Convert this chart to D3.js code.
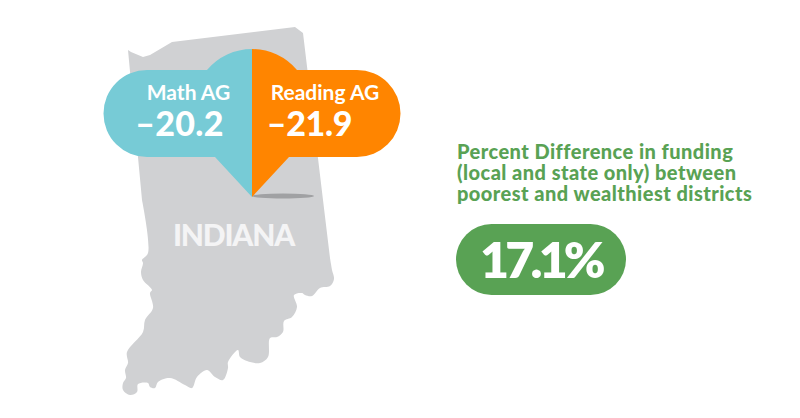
<!DOCTYPE html>
<html>
<head>
<meta charset="utf-8">
<script src="https://cdn.jsdelivr.net/npm/d3@7"></script>
<style>
  html, body { margin: 0; background: #fff; }
  svg { display: block; }
  text { font-family: Lato, "Open Sans", sans-serif; }
</style>
</head>
<body>
<svg id="chart" width="800" height="418"></svg>
<script>
const stateName = 'INDIANA';
const subjects = ['Math AG', 'Reading AG'];
const gaps = [-20.2, -21.9];
const fundingLines = [
  'Percent Difference in funding',
  '(local and state only) between',
  'poorest and wealthiest districts'
];
const fundingDiff = 17.1;

// traced state border: straight north edge, then the wiggly river edge
const northEdge = [[142, 200], [128, 50], [131, 52], [143, 57], [150, 55], [172, 42], [295, 27], [303, 33], [323, 200], [330, 258]];
const riverEdge = [
  [330, 258], [331, 264], [332, 270], [334, 279], [330, 286], [320, 288], [312, 296], [305, 295], [302, 293], [294, 295],
  [297, 307], [292, 317], [284, 321], [283, 332], [277, 337], [270, 338], [268, 357], [260, 363], [247, 361], [240, 357],
  [238, 350], [228, 362], [228, 368], [223, 380], [215, 377], [207, 370], [197, 377], [192, 388], [185, 385], [170, 378],
  [158, 382], [155, 388], [150, 387], [148, 383], [138, 384], [137, 392], [130, 395], [123, 390], [123, 383], [126, 378],
  [125, 370], [128, 363], [127, 352], [143, 332], [145, 320], [153, 308], [150, 293], [152, 290], [143, 280], [141, 272],
  [143, 263], [142, 260], [148, 253], [142, 200]
];

const GRAY = '#d0d1d3';
const TEAL = '#77cbd6';
const ORANGE = '#ff8500';
const GREEN = '#59a254';

const fmtGap = d3.format('.1f');
const svg = d3.select('#chart');

// ── State shape ─────────────────────────────────────────────
const straight = d3.line();
const wiggly = d3.line().curve(d3.curveCatmullRom.alpha(0.5));
svg.append('path')
  .attr('d', straight(northEdge) + wiggly(riverEdge).replace(/^M/, 'L') + 'Z')
  .attr('fill', GRAY);

svg.append('text')
  .attr('x', 233.5).attr('y', 246)
  .attr('text-anchor', 'middle')
  .attr('font-size', 30).attr('font-weight', 900)
  .attr('letter-spacing', -1.2)
  .attr('fill', '#f4f4f5')
  .text(stateName);

// ── Pin shadow ──────────────────────────────────────────────
svg.append('ellipse')
  .attr('cx', 283).attr('cy', 196)
  .attr('rx', 31).attr('ry', 2.5)
  .attr('fill', '#a0a1a3');

// ── Speech-bubble pin, one half per subject ─────────────────
const CX = 252;
const halves = [
  { sign: -1, color: TEAL },
  { sign: 1, color: ORANGE }
];
halves.forEach(({ sign, color }) => {
  const sweep = sign > 0 ? 1 : 0;
  const ex = CX + sign * 105; // where the round end starts
  svg.append('path')
    .attr('d', `M${CX},49 A58.7,58.7 0 0 ${sweep} ${CX + sign * 45},70 L${ex},70 `
      + `A43.5,43.5 0 0 ${sweep} ${ex},157 L${CX + sign * 37},157 L${CX},197 Z`)
    .attr('fill', color);
});

const labelX = [188.5, 325];
const numX = [179.5, 309.5];
subjects.forEach((s, i) => {
  svg.append('text')
    .attr('x', labelX[i]).attr('y', 100)
    .attr('text-anchor', 'middle')
    .attr('font-size', 21).attr('font-weight', 700)
    .attr('fill', '#fff')
    .text(s);
  svg.append('text')
    .attr('x', numX[i]).attr('y', 136)
    .attr('text-anchor', 'middle')
    .attr('font-size', 34).attr('font-weight', 900)
    .attr('letter-spacing', i === 0 ? 0.3 : -0.3)
    .attr('fill', '#fff')
    .text('–' + fmtGap(Math.abs(gaps[i])));
});

// ── Funding callout ─────────────────────────────────────────
svg.append('g').selectAll('text')
  .data(fundingLines)
  .join('text')
  .attr('x', 457)
  .attr('y', (d, i) => 159 + i * 21)
  .attr('font-size', 20).attr('font-weight', 900)
  .attr('letter-spacing', 0.45)
  .attr('fill', GREEN)
  .text(d => d);

svg.append('rect')
  .attr('x', 456).attr('y', 224)
  .attr('width', 170).attr('height', 71)
  .attr('rx', 35.5)
  .attr('fill', GREEN);

svg.append('text')
  .attr('x', 541).attr('y', 278)
  .attr('text-anchor', 'middle')
  .attr('font-size', 50).attr('font-weight', 800)
  .attr('letter-spacing', -3.8)
  .attr('fill', '#fff')
  .text(`${fundingDiff}%`);
</script>
</body>
</html>
